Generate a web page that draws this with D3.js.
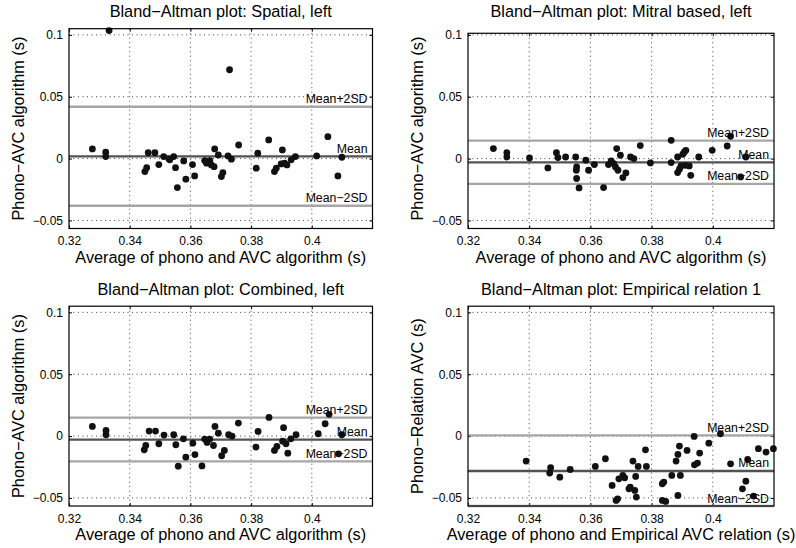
<!DOCTYPE html>
<html>
<head>
<meta charset="utf-8">
<script src="https://cdn.jsdelivr.net/npm/d3@7/dist/d3.min.js"></script>
<style>
  html, body { margin: 0; padding: 0; background: #ffffff; }
  svg { display: block; }
  text { font-family: "Liberation Sans", Arial, Helvetica, sans-serif; fill: #000; }
</style>
</head>
<body>
<svg id="chart" width="796" height="548"></svg>
<script>
// Shared axis settings for the four Bland–Altman panels
const xLimits = [0.32, 0.42];
const yLimits = [-0.0565, 0.105];
// upper edge of each panel's box (the mitral panel stops a little lower)
const yUpperLimits = [0.105, 0.1013, 0.105, 0.105];
const xTicks = [0.32, 0.34, 0.36, 0.38, 0.4];
const yTicks = [-0.05, 0, 0.05, 0.1];

const panelTitles = [
  "Bland\u2212Altman plot: Spatial, left",
  "Bland\u2212Altman plot: Mitral based, left",
  "Bland\u2212Altman plot: Combined, left",
  "Bland\u2212Altman plot: Empirical relation 1"
];
const xLabels = [
  "Average of phono and AVC algorithm (s)",
  "Average of phono and AVC algorithm (s)",
  "Average of phono and AVC algorithm (s)",
  "Average of phono and Empirical AVC relation (s)"
];
const yLabels = [
  "Phono\u2212AVC algorithm (s)",
  "Phono\u2212AVC algorithm (s)",
  "Phono\u2212AVC algorithm (s)",
  "Phono\u2212Relation AVC (s)"
];
const statLabels = ["Mean+2SD", "Mean", "Mean\u22122SD"];

// Agreement statistics per panel: mean difference and mean ± 2 SD
const meanValues  = [0.0018, -0.0030, -0.0028, -0.0282];
const upperValues = [0.0419,  0.0145,  0.0149,  0.0006];
const lowerValues = [-0.0381, -0.0205, -0.0205, -0.0565];

// Spatial, left
const spatialX = [0.3277, 0.3321, 0.3321, 0.3332, 0.3450, 0.3456, 0.3461, 0.3483, 0.3496, 0.3512,
  0.3529, 0.3532, 0.3545, 0.3551, 0.3557, 0.3578, 0.3585, 0.3607, 0.3614, 0.3647,
  0.3653, 0.3664, 0.3669, 0.3678, 0.3680, 0.3692, 0.3702, 0.3707, 0.3724, 0.3729,
  0.3735, 0.3759, 0.3817, 0.3822, 0.3858, 0.3877, 0.3883, 0.3899, 0.3903, 0.3910,
  0.3918, 0.3932, 0.3946, 0.4016, 0.4053, 0.4086, 0.4099];
const spatialY = [0.0078, 0.0052, 0.0016, 0.1035, -0.0105, -0.0073, 0.0048, 0.0048, -0.0048, 0.0016,
  -0.0002, -0.0010, 0.0016, -0.0073, -0.0234, -0.0019, -0.0166, -0.0048, -0.0140, -0.0016,
  -0.0037, -0.0016, -0.0051, -0.0065, 0.0078, 0.0030, -0.0145, -0.0113, 0.0022, 0.0718,
  -0.0005, 0.0110, -0.0077, 0.0044, 0.0151, -0.0105, -0.0077, -0.0043, 0.0070, -0.0037,
  -0.0051, -0.0010, 0.0016, 0.0022, 0.0177, -0.0140, 0.0011];

// Mitral based, left
const mitralX = [0.3283, 0.3327, 0.3327, 0.3401, 0.3461, 0.3489, 0.3494, 0.3519, 0.3552, 0.3555,
  0.3554, 0.3555, 0.3563, 0.3585, 0.3594, 0.3613, 0.3643, 0.3659, 0.3668, 0.3676,
  0.3682, 0.3686, 0.3690, 0.3698, 0.3706, 0.3716, 0.3731, 0.3742, 0.3763, 0.3796,
  0.3864, 0.3864, 0.3885, 0.3885, 0.3891, 0.3896, 0.3902, 0.3907, 0.3912, 0.3910,
  0.3923, 0.3928, 0.3954, 0.3998, 0.4047, 0.4058, 0.4091, 0.4108];
const mitralY = [0.0081, 0.0048, 0.0013, 0.0005, -0.0075, 0.0048, 0.0008, 0.0013, 0.0013, -0.0067,
  -0.0094, -0.0161, -0.0237, -0.0013, -0.0094, -0.0048, -0.0234, -0.0048, -0.0019, -0.0040,
  -0.0067, 0.0081, -0.0094, 0.0027, -0.0153, -0.0116, 0.0013, 0.0000, 0.0105, -0.0035,
  0.0148, -0.0032, 0.0013, -0.0113, -0.0086, -0.0059, 0.0035, 0.0054, 0.0067, -0.0054,
  -0.0059, -0.0135, 0.0013, 0.0067, 0.0102, 0.0180, -0.0148, 0.0013];

// Combined, left
const combinedX = [0.3277, 0.3322, 0.3322, 0.3448, 0.3453, 0.3464, 0.3485, 0.3496, 0.3513, 0.3545,
  0.3552, 0.3560, 0.3577, 0.3585, 0.3608, 0.3615, 0.3638, 0.3647, 0.3655, 0.3664,
  0.3676, 0.3681, 0.3692, 0.3703, 0.3712, 0.3726, 0.3737, 0.3758, 0.3816, 0.3823,
  0.3859, 0.3877, 0.3885, 0.3907, 0.3904, 0.3915, 0.3921, 0.3931, 0.3948, 0.4021,
  0.4044, 0.4057, 0.4088, 0.4099];
const combinedY = [0.0078, 0.0046, 0.0011, -0.0111, -0.0076, 0.0041, 0.0041, -0.0062, 0.0008, 0.0011,
  -0.0070, -0.0243, -0.0022, -0.0170, -0.0057, -0.0149, -0.0241, -0.0024, -0.0051, -0.0024,
  -0.0076, 0.0078, 0.0024, -0.0159, -0.0116, 0.0011, 0.0000, 0.0105, -0.0089, 0.0038,
  0.0151, -0.0116, -0.0084, 0.0068, -0.0041, -0.0062, -0.0138, -0.0022, 0.0011, 0.0019,
  0.0100, 0.0176, -0.0143, 0.0011];

// Empirical relation 1
const empiricalX = [0.3390, 0.3470, 0.3467, 0.3500, 0.3534, 0.3616, 0.3649, 0.3671, 0.3684, 0.3689,
  0.3693, 0.3706, 0.3712, 0.3726, 0.3730, 0.3739, 0.3745, 0.3748, 0.3750, 0.3756,
  0.3780, 0.3783, 0.3835, 0.3840, 0.3835, 0.3846, 0.3866, 0.3880, 0.3886, 0.3891,
  0.3886, 0.3894, 0.3916, 0.3939, 0.3940, 0.3950, 0.3957, 0.3987, 0.4025, 0.4058,
  0.4097, 0.4108, 0.4114, 0.4133, 0.4149, 0.4174, 0.4198];
const empiricalY = [-0.0202, -0.0256, -0.0299, -0.0332, -0.0270, -0.0245, -0.0183, -0.0399, -0.0520, -0.0507,
  -0.0345, -0.0318, -0.0337, -0.0426, -0.0412, -0.0202, -0.0439, -0.0326, -0.0493, -0.0245,
  -0.0111, -0.0245, -0.0385, -0.0372, -0.0520, -0.0528, -0.0318, -0.0202, -0.0148, -0.0081,
  -0.0480, -0.0318, -0.0116, -0.0003, -0.0232, -0.0218, -0.0137, -0.0057, 0.0019, -0.0224,
  -0.0426, -0.0364, -0.0189, -0.0485, -0.0102, -0.0129, -0.0102];

const seriesX = [spatialX, mitralX, combinedX, empiricalX];
const seriesY = [spatialY, mitralY, combinedY, empiricalY];

// Plot-box geometry (pixels)
const columns = [{ left: 69, right: 372.5 }, { left: 468, right: 774 }];
const rows = [{ top: 28.7, bottom: 228.5 }, { top: 306.2, bottom: 506 }];

const svg = d3.select("#chart");
svg.append("rect").attr("width", 796).attr("height", 548).attr("fill", "#fff");

const fmt = d => d === 0 ? "0" : (d < 0 ? "\u2212" : "") + String(Math.abs(d));

for (let i = 0; i < 4; i++) {
  const col = columns[i % 2], row = rows[Math.floor(i / 2)];
  const x = d3.scaleLinear().domain(xLimits).range([col.left, col.right]);
  const y = d3.scaleLinear().domain(yLimits).range([row.bottom, row.top]);
  const boxTop = y(yUpperLimits[i]);
  const w = col.right - col.left, h = row.bottom - boxTop;
  const g = svg.append("g");

  // dotted grid
  g.append("g").selectAll("line").data(xTicks.filter(t => t > xLimits[0]))
    .join("line")
    .attr("x1", d => x(d)).attr("x2", d => x(d))
    .attr("y1", boxTop).attr("y2", row.bottom)
    .attr("stroke", "#444").attr("stroke-width", 1).attr("stroke-dasharray", "1,3.5");
  g.append("g").selectAll("line").data(yTicks)
    .join("line")
    .attr("x1", col.left).attr("x2", col.right)
    .attr("y1", d => y(d)).attr("y2", d => y(d))
    .attr("stroke", "#444").attr("stroke-width", 1).attr("stroke-dasharray", "1,3.5");

  // axes with inward ticks
  const axL = d3.axisLeft(y).tickValues(yTicks).tickFormat(fmt).tickSize(-3).tickPadding(6);
  const axB = d3.axisBottom(x).tickValues(xTicks).tickFormat(fmt).tickSize(-3).tickPadding(8);
  const axR = d3.axisRight(y).tickValues(yTicks).tickFormat("").tickSize(-3);
  const axT = d3.axisTop(x).tickValues(xTicks).tickFormat("").tickSize(-3);
  [[axL, `translate(${col.left},0)`], [axB, `translate(0,${row.bottom})`],
   [axR, `translate(${col.right},0)`], [axT, `translate(0,${boxTop})`]].forEach(([ax, tr]) => {
    const a = g.append("g").attr("transform", tr).call(ax);
    a.select(".domain").remove();
    a.selectAll("line").attr("stroke", "#000");
    a.selectAll("text").attr("font-size", 12).attr("font-family", "Liberation Sans, Arial, sans-serif").attr("fill", "#000");
  });

  // limits of agreement and mean line
  const statVals = [upperValues[i], meanValues[i], lowerValues[i]];
  const statColors = ["#a6a6a6", "#525252", "#a6a6a6"];
  g.append("g").selectAll("line").data(statVals)
    .join("line")
    .attr("x1", col.left).attr("x2", col.right)
    .attr("y1", d => y(d)).attr("y2", d => y(d))
    .attr("stroke", (d, k) => statColors[k]).attr("stroke-width", 2.3);

  // difference vs average points
  const pts = seriesX[i].map((v, k) => [v, seriesY[i][k]]);
  g.append("g").selectAll("circle").data(pts)
    .join("circle")
    .attr("cx", d => x(d[0])).attr("cy", d => y(d[1]))
    .attr("r", 3.4).attr("fill", "#111");

  // line labels
  g.append("g").selectAll("text").data(statVals)
    .join("text")
    .attr("x", col.right - 5).attr("y", d => y(d) - 3.5)
    .attr("text-anchor", "end").attr("font-size", 12.3)
    .text((d, k) => statLabels[k]);

  // box
  g.append("rect").attr("x", col.left).attr("y", boxTop).attr("width", w).attr("height", h)
    .attr("fill", "none").attr("stroke", "#000").attr("stroke-width", 1.2);

  // title and axis labels
  const cx = (col.left + col.right) / 2, cy = (row.top + row.bottom) / 2;
  g.append("text").attr("x", cx).attr("y", row.top - 11.3)
    .attr("text-anchor", "middle").attr("font-size", 16.3).text(panelTitles[i]);
  g.append("text").attr("x", cx).attr("y", row.bottom + 34)
    .attr("text-anchor", "middle").attr("font-size", 16.3).text(xLabels[i]);
  g.append("text").attr("transform", `translate(${col.left - 45.5},${cy}) rotate(-90)`)
    .attr("text-anchor", "middle").attr("font-size", 16.3).text(yLabels[i]);
}
</script>
</body>
</html>
